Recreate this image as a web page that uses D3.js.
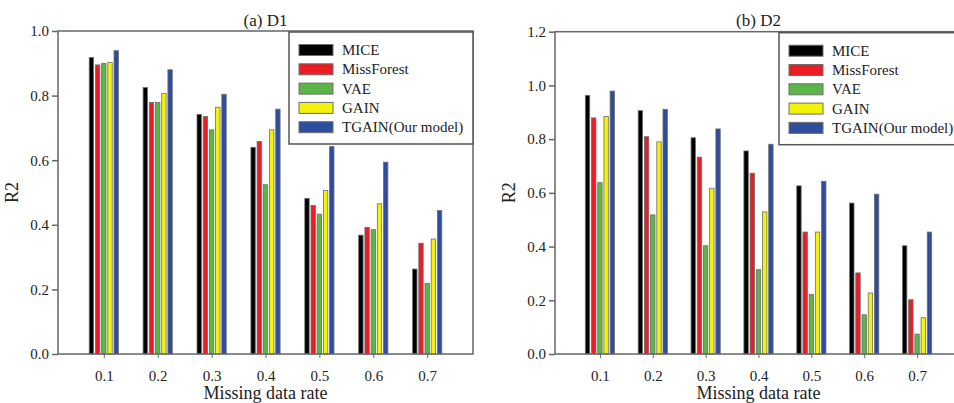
<!DOCTYPE html>
<html>
<head>
<meta charset="utf-8">
<script src="https://cdn.jsdelivr.net/npm/d3@7"></script>
<style>
  body { margin: 0; background: #fff; }
  svg text { font-family: "Liberation Serif", "Times New Roman", serif; fill: #222; }
</style>
</head>
<body>
<div id="chart"></div>
<script>
const rates = [0.1, 0.2, 0.3, 0.4, 0.5, 0.6, 0.7];
const methods = ["MICE", "MissForest", "VAE", "GAIN", "TGAIN(Our model)"];
const colors = ["#000000", "#ec1c24", "#5bb647", "#f2f20a", "#2f4d9e"];

// D1
const d1Mice = [0.918, 0.825, 0.742, 0.640, 0.482, 0.368, 0.263];
const d1MissForest = [0.895, 0.779, 0.735, 0.658, 0.460, 0.392, 0.343];
const d1Vae = [0.900, 0.779, 0.694, 0.524, 0.433, 0.385, 0.218];
const d1Gain = [0.903, 0.807, 0.764, 0.694, 0.506, 0.465, 0.356];
const d1Tgain = [0.939, 0.880, 0.804, 0.758, 0.642, 0.594, 0.444];

// D2
const d2Mice = [0.963, 0.906, 0.805, 0.756, 0.626, 0.562, 0.403];
const d2MissForest = [0.879, 0.809, 0.733, 0.673, 0.454, 0.302, 0.202];
const d2Vae = [0.638, 0.518, 0.403, 0.314, 0.222, 0.146, 0.074];
const d2Gain = [0.884, 0.790, 0.617, 0.529, 0.454, 0.227, 0.135];
const d2Tgain = [0.979, 0.911, 0.838, 0.781, 0.643, 0.595, 0.454];

const yTicks1 = [0, 0.2, 0.4, 0.6, 0.8, 1.0];
const yTicks2 = [0, 0.2, 0.4, 0.6, 0.8, 1.0, 1.2];

const width = 954, height = 403;
const svg = d3.select("#chart").append("svg")
    .attr("width", width)
    .attr("height", height);

function drawPanel(opts) {
    const { left, right, top, bottom, yMax, yTicks, title, series } = opts;
    const g = svg.append("g");

    const x = d3.scaleLinear().domain([0.015, 0.785]).range([left, right]);
    const y = d3.scaleLinear().domain([0, yMax]).range([bottom, top]);

    const step = 6.2, barW = 4.4;

    // bars
    series.forEach((vals, i) => {
        g.selectAll(null)
            .data(vals)
            .enter()
            .append("rect")
            .attr("x", (d, j) => x(rates[j]) + (i - 2) * step - barW / 2)
            .attr("y", d => y(d))
            .attr("width", barW)
            .attr("height", d => y(0) - y(d))
            .style("fill", colors[i])
            .style("stroke", "#6e6e6e")
            .style("stroke-width", 0.8);
    });

    // frame
    g.append("rect")
        .attr("x", left).attr("y", top)
        .attr("width", right - left).attr("height", bottom - top)
        .style("fill", "none")
        .style("stroke", "#666")
        .style("stroke-width", 1.5);

    // y axis
    const yAxis = d3.axisLeft(y).tickValues(yTicks).tickSize(6).tickPadding(3)
        .tickFormat(d3.format(".1f"));
    const ya = g.append("g").attr("transform", `translate(${left},0)`).call(yAxis);
    ya.select(".domain").remove();
    ya.selectAll("line").style("stroke", "#666").style("stroke-width", 1.5);
    ya.selectAll("text").style("font-size", "15px").style("fill", "#222")
        .style("font-family", "Liberation Serif, serif");

    // x axis
    const xAxis = d3.axisBottom(x).tickValues(rates).tickSize(4).tickPadding(12)
        .tickFormat(d3.format(".1f"));
    const xa = g.append("g").attr("transform", `translate(0,${bottom})`).call(xAxis);
    xa.select(".domain").remove();
    xa.selectAll("line").style("stroke", "#666").style("stroke-width", 1);
    xa.selectAll("text").style("font-size", "15px").style("fill", "#222")
        .style("font-family", "Liberation Serif, serif");

    const cx = (left + right) / 2;
    g.append("text")
        .attr("x", cx).attr("y", 26)
        .attr("text-anchor", "middle")
        .style("font-size", "17px")
        .text(title);

    g.append("text")
        .attr("x", cx).attr("y", 399)
        .attr("text-anchor", "middle")
        .style("font-size", "18px")
        .text("Missing data rate");

    g.append("text")
        .attr("transform", `translate(${left - 40},${(top + bottom) / 2}) rotate(-90)`)
        .attr("text-anchor", "middle")
        .style("font-size", "18px")
        .text("R2");

    // legend
    const lx = opts.legendX, ly = top + 1;
    const lg = g.append("g");
    lg.append("rect")
        .attr("x", lx).attr("y", ly)
        .attr("width", opts.legendW).attr("height", 112)
        .style("fill", "#fff")
        .style("stroke", "#555")
        .style("stroke-width", 1.5);
    methods.forEach((m, i) => {
        const ry = ly + 18 + i * 19.3;
        lg.append("rect")
            .attr("x", lx + 10).attr("y", ry - 5.5)
            .attr("width", 34).attr("height", 11)
            .style("fill", colors[i])
            .style("stroke", "#6e6e6e")
            .style("stroke-width", 1);
        lg.append("text")
            .attr("x", lx + 53).attr("y", ry + 5)
            .style("font-size", "15px")
            .text(m);
    });
}

drawPanel({
    left: 58, right: 473, top: 31, bottom: 354, yMax: 1.0, yTicks: yTicks1,
    title: "(a) D1",
    series: [d1Mice, d1MissForest, d1Vae, d1Gain, d1Tgain],
    legendX: 289, legendW: 184
});

drawPanel({
    left: 555, right: 962, top: 31.7, bottom: 354, yMax: 1.2, yTicks: yTicks2,
    title: "(b) D2",
    series: [d2Mice, d2MissForest, d2Vae, d2Gain, d2Tgain],
    legendX: 779, legendW: 184
});
</script>
</body>
</html>
